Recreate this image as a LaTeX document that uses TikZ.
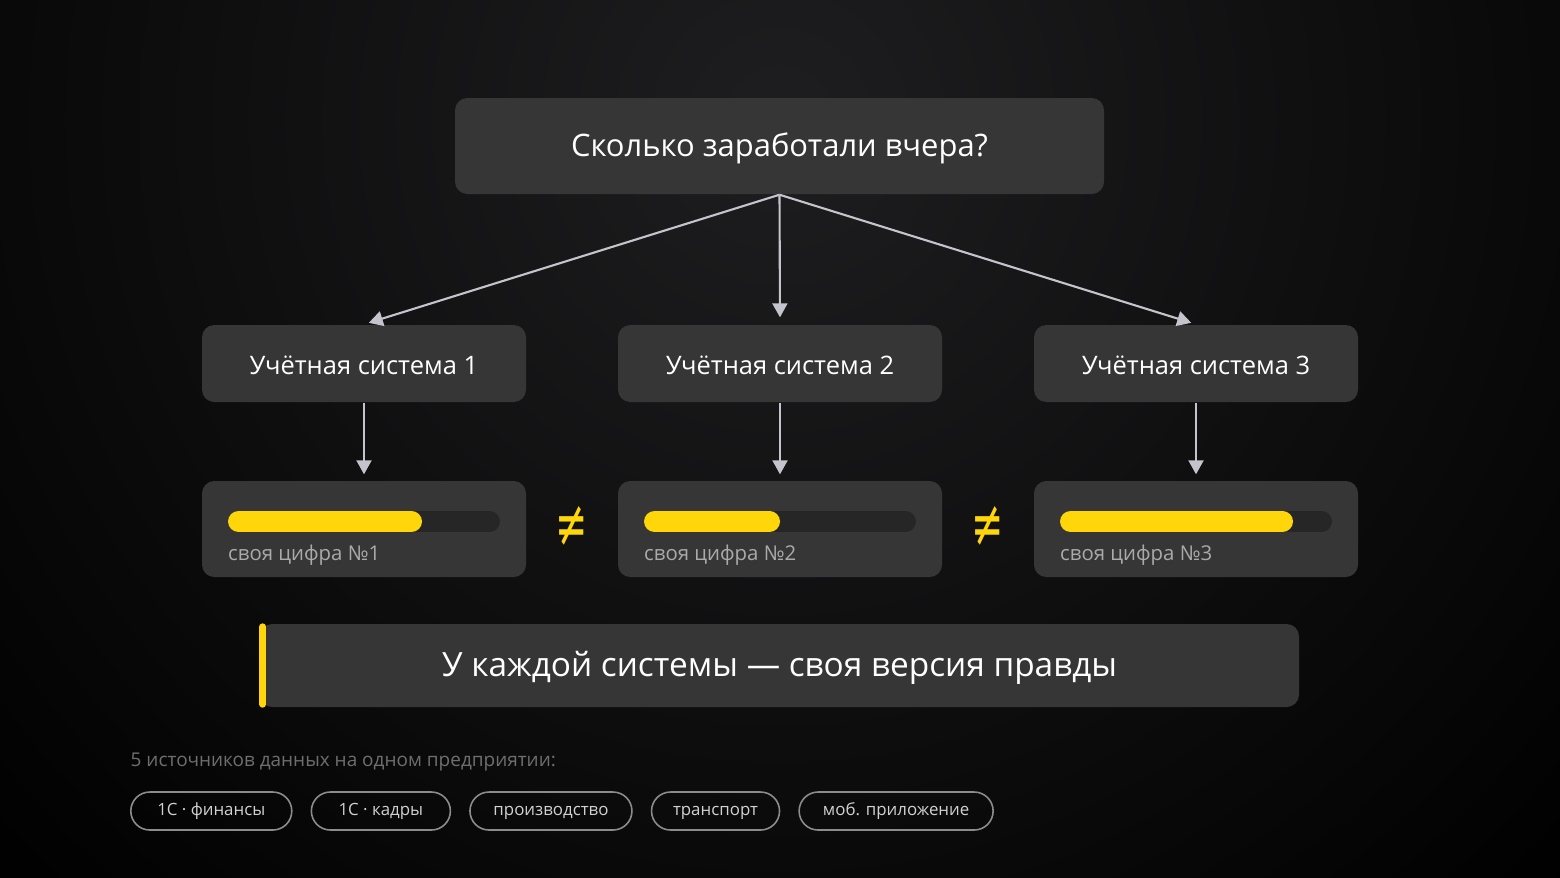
\documentclass[tikz,border=0pt]{standalone}
\usepackage{fontspec}
\setmainfont{Open Sans}
\newfontfamily\symfont{DejaVu Sans}
\usepackage{graphicx}
\usepackage{xcolor}
\definecolor{bgglow}{RGB}{30,30,32}
\definecolor{cardgray}{RGB}{54,54,54}
\definecolor{trackgray}{RGB}{38,38,38}
\definecolor{accyellow}{RGB}{255,214,10}
\definecolor{arrgray}{RGB}{196,196,204}
\definecolor{labelgray}{RGB}{170,170,170}
\definecolor{capgray}{RGB}{110,110,110}
\definecolor{pillgray}{RGB}{140,140,140}
\usetikzlibrary{arrows.meta, positioning, calc, shapes.misc}

\begin{document}
\begin{tikzpicture}[
  card/.style={rectangle, rounded corners=3.5pt, fill=cardgray, inner sep=0pt,
               align=center, text=white, text height=7.5pt, text depth=1.5pt},
  qbox/.style={card, minimum width=6.49cm, minimum height=0.96cm, font=\fontsize{8.8}{10}\selectfont},
  sys/.style={card, minimum width=3.24cm, minimum height=0.77cm, font=\fontsize{7.25}{9}\selectfont},
  val/.style={card, minimum width=3.24cm, minimum height=0.96cm},
  lbl/.style={anchor=west, inner sep=0pt, text=labelgray, font=\fontsize{5.8}{7}\selectfont},
  neq/.style={text=accyellow, inner sep=0pt, font=\symfont\fontsize{11}{12}\selectfont},
  track/.style={line width=0.21cm, line cap=round, draw=trackgray},
  bar/.style={line width=0.21cm, line cap=round, draw=accyellow},
  pill/.style={rounded rectangle, draw=pillgray, line width=0.45pt, minimum height=0.38cm,
               inner xsep=0pt, inner ysep=0pt, text=white!82!black,
               text height=3.4pt, text depth=0.8pt, font=\fontsize{4.8}{6}\selectfont},
  arr/.style={-{Triangle[length=0.14cm, width=0.15cm]}, line width=0.6pt, draw=arrgray, color=arrgray}
]
% background
\useasboundingbox (0,0) rectangle (15.6,-8.77);
\fill[black] (0,0) rectangle (15.6,-8.77);
\begin{scope}
  \clip (0,0) rectangle (15.6,-8.77);
  \shade[inner color=bgglow, outer color=black] (7.8,-1.2) circle (11);
\end{scope}

% question
\node[qbox] (q) at (7.795,-1.46) {Сколько заработали вчера?};

% systems
\node[sys] (s1) at (3.64,-3.635) {Учётная система 1};
\node[sys] (s2) at (7.80,-3.635) {Учётная система 2};
\node[sys] (s3) at (11.96,-3.635) {Учётная система 3};

% values
\node[val] (v1) at (3.64,-5.29) {};
\node[val] (v2) at (7.80,-5.29) {};
\node[val] (v3) at (11.96,-5.29) {};

\draw[track] (2.385,-5.215) -- (4.895,-5.215);
\draw[bar]   (2.385,-5.215) -- (4.115,-5.215);
\draw[track] (6.545,-5.215) -- (9.055,-5.215);
\draw[bar]   (6.545,-5.215) -- (7.695,-5.215);
\draw[track] (10.705,-5.215) -- (13.215,-5.215);
\draw[bar]   (10.705,-5.215) -- (12.825,-5.215);

\node[lbl] (l1) at (2.275,-5.55) {своя цифра №1};
\node[lbl] (l2) at (6.435,-5.55) {своя цифра №2};
\node[lbl] (l3) at (10.595,-5.55) {своя цифра №3};

\node[neq] (n1) at (5.72,-5.27) {\scalebox{1}[1.7]{≠}};
\node[neq] (n2) at (9.88,-5.27) {\scalebox{1}[1.7]{≠}};

% connectors
\draw[arr, shorten >=0.05cm] (q.south) -- (s1.north);
\draw[arr, shorten >=0.07cm] (q.south) -- (s2.north);
\draw[arr, shorten >=0.05cm] (q.south) -- (s3.north);
\draw[arr, shorten >=0.06cm] (s1.south) -- (v1.north);
\draw[arr, shorten >=0.06cm] (s2.south) -- (v2.north);
\draw[arr, shorten >=0.06cm] (s3.south) -- (v3.north);

% summary
\node[card, minimum width=10.39cm, minimum height=0.83cm, font=\fontsize{9.5}{11}\selectfont]
  (sum) at (7.795,-6.655) {У каждой системы — своя версия правды};
\draw[accyellow, line width=0.07cm, line cap=round] ([xshift=0.035cm,yshift=-0.035cm]sum.north west) -- ([xshift=0.035cm,yshift=0.035cm]sum.south west);

% sources
\node[anchor=west, inner sep=0pt, text=capgray, font=\fontsize{5.4}{7}\selectfont]
  (cap) at (1.30,-7.62) {5 источников данных на одном предприятии:};
\node[pill, minimum width=1.61cm, anchor=west] (p1) at (1.30,-8.11) {1С · финансы};
\node[pill, minimum width=1.39cm, right=0.18cm of p1] (p2) {1С · кадры};
\node[pill, minimum width=1.62cm, right=0.18cm of p2] (p3) {производство};
\node[pill, minimum width=1.28cm, right=0.18cm of p3] (p4) {транспорт};
\node[pill, minimum width=1.94cm, right=0.18cm of p4] (p5) {моб. приложение};
\end{tikzpicture}
\end{document}
